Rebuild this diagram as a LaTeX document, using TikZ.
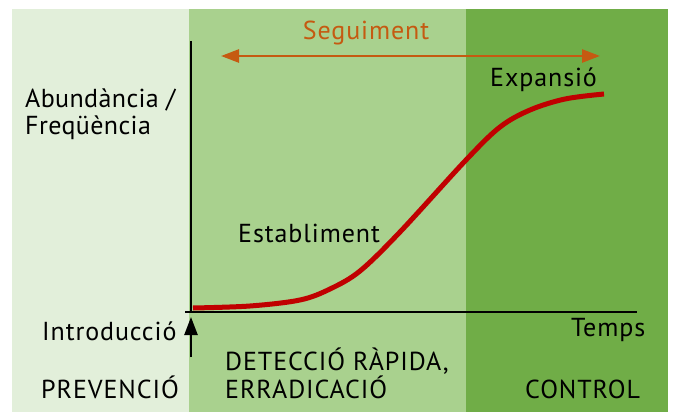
\documentclass[tikz,border=0pt]{standalone}
\usepackage{fontspec}
\setmainfont[LetterSpace=3.5]{PT Sans}
\newfontfamily\tightfont[LetterSpace=1.5]{PT Sans}
\usetikzlibrary{arrows.meta}
\definecolor{bandA}{HTML}{E2EFDA}
\definecolor{bandB}{HTML}{A9D18E}
\definecolor{bandC}{HTML}{70AD47}
\definecolor{curvered}{HTML}{C00000}
\definecolor{segorange}{HTML}{C55A11}
\begin{document}
\begin{tikzpicture}[x=1pt,y=-1pt,
  lbl/.style={anchor=base west,inner sep=0pt,font=\fontsize{26}{30}\selectfont},
  axisline/.style={line width=2.6pt,black},
  seg/.style={line width=2.6pt,segorange,{Triangle[length=18pt,width=13pt]}-{Triangle[length=18pt,width=13pt]}},
  intro/.style={line width=2.4pt,black,-{Triangle[length=18pt,width=13pt]}},
  sigmoid/.style={line width=5pt,curvered}]
\useasboundingbox (0,0) rectangle (673,412);
\fill[white] (0,0) rectangle (673,412);
\fill[bandA] (12,9) rectangle (189,412);
\fill[bandB] (189,9) rectangle (466,412);
\fill[bandC] (466,9) rectangle (668,412);
% axes
\coordinate (ytop) at (191,41);
\coordinate (orig) at (191,312);
\coordinate (xleft) at (185,312);
\coordinate (xend) at (637,312);
\draw[axisline] (ytop) -- (orig);
\draw[axisline] (xleft) -- (xend);
% introduction arrow
\coordinate (introbot) at (191,357);
\coordinate (introtip) at (191,317);
\draw[intro] (introbot) -- (introtip);
% seguiment arrow
\coordinate (segL) at (221,56);
\coordinate (segR) at (600,56);
\draw[seg] (segL) -- (segR);
\node[lbl,text=segorange,anchor=base] (seguiment) at (366,40) {Seguiment};
% curve
\draw[sigmoid] plot[smooth,tension=0.55] coordinates {(193,308) (250,306) (300,300) (330,289) (360,271) (400,232) (466,160) (500,127) (530,110) (565,99) (604,94)};
% labels
\node[lbl] (abund) at (25,108) {\tightfont Abundància /};
\node[lbl] (freq) at (25,135) {\tightfont Freqüència};
\node[lbl] (expansio) at (490,87) {Expansió};
\node[lbl] (establ) at (238,242) {Establiment};
\node[lbl] (introd) at (42,340) {Introducció};
\node[lbl] (temps) at (571,336) {Temps};
\node[lbl] (deteccio) at (225,370) {DETECCIÓ RÀPIDA,};
\node[lbl] (erradic) at (225,398) {ERRADICACIÓ};
\node[lbl] (prevencio) at (41,398) {PREVENCIÓ};
\node[lbl] (control) at (525,398) {CONTROL};
\end{tikzpicture}
\end{document}
